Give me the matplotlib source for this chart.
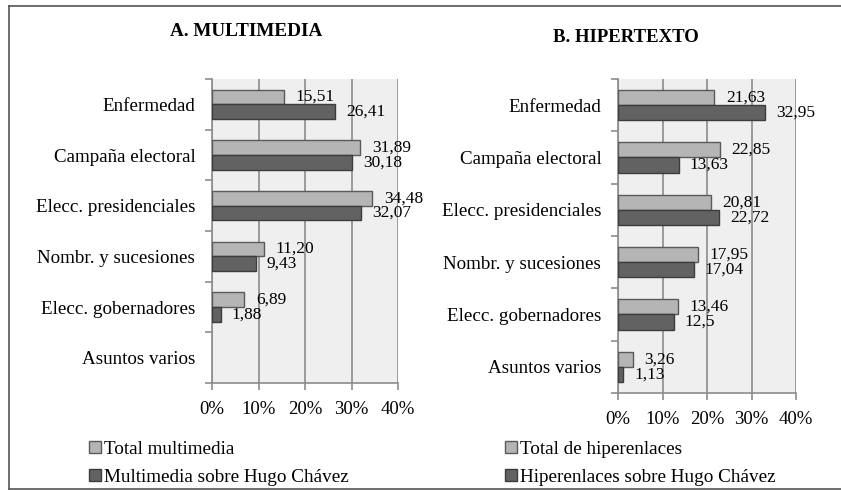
import matplotlib
matplotlib.use("Agg")
import matplotlib.pyplot as plt
from matplotlib.patches import Patch
from matplotlib.lines import Line2D
import numpy as np

plt.rcParams['font.family'] = ['Liberation Serif', 'DejaVu Serif']

categories = ["Enfermedad", "Campaña electoral", "Elecc. presidenciales",
              "Nombr. y sucesiones", "Elecc. gobernadores", "Asuntos varios"]

# A. Multimedia (no bars for "Asuntos varios")
multi_total = [15.51, 31.89, 34.48, 11.20, 6.89, np.nan]
multi_chavez = [26.41, 30.18, 32.07, 9.43, 1.88, np.nan]
multi_total_lbl = ["15,51", "31,89", "34,48", "11,20", "6,89", ""]
multi_chavez_lbl = ["26,41", "30,18", "32,07", "9,43", "1,88", ""]

# B. Hipertexto
hiper_total = [21.63, 22.85, 20.81, 17.95, 13.46, 3.26]
hiper_chavez = [32.95, 13.63, 22.72, 17.04, 12.5, 1.13]
hiper_total_lbl = ["21,63", "22,85", "20,81", "17,95", "13,46", "3,26"]
hiper_chavez_lbl = ["32,95", "13,63", "22,72", "17,04", "12,5", "1,13"]

xticks = [0, 10, 20, 30, 40]
xtick_lbl = ["0%", "10%", "20%", "30%", "40%"]

LIGHT = "#b5b5b5"
DARK = "#626262"
GRID = "#8c8c8c"


def draw_panel(ax, total, chavez, total_lbl, chavez_lbl, leg_labels, leg_anchor):
    y = np.arange(len(categories))
    h = 0.29
    ax.set_facecolor("#efefef")
    ax.barh(y - h / 2, total, height=h, color=LIGHT, edgecolor="#5a5a5a", linewidth=1.0, zorder=3)
    ax.barh(y + h / 2, chavez, height=h, color=DARK, edgecolor="#3c3c3c", linewidth=1.0, zorder=3)
    for i in range(len(categories)):
        if total_lbl[i]:
            ax.annotate(total_lbl[i], (total[i], y[i] - h / 2), xytext=(8.5, 0),
                        textcoords="offset points", va="center", ha="left", fontsize=12.5, zorder=4)
        if chavez_lbl[i]:
            ax.annotate(chavez_lbl[i], (chavez[i], y[i] + h / 2), xytext=(8, 0),
                        textcoords="offset points", va="center", ha="left", fontsize=12.5, zorder=4)

    ax.set_xlim(0, 40)
    ax.set_ylim(len(categories) - 0.5, -0.5)
    ax.set_xticks(xticks)
    ax.set_xticklabels(xtick_lbl, fontsize=13.5)
    ax.xaxis.grid(True, color=GRID, linewidth=1.2, zorder=1)
    ax.set_axisbelow(True)

    ax.set_yticks(np.arange(len(categories) + 1) - 0.5)
    ax.set_yticklabels([])
    ax.set_yticks(y, minor=True)
    ax.set_yticklabels(categories, minor=True, fontsize=13.7)
    ax.tick_params(axis="y", which="minor", length=0, pad=12)
    ax.tick_params(axis="y", which="major", length=5, color=GRID, width=1.2)
    ax.tick_params(axis="x", length=5, color=GRID, width=1.2, pad=8)

    for s in ["top", "right"]:
        ax.spines[s].set_visible(False)
    for s in ["left", "bottom"]:
        ax.spines[s].set_color(GRID)
        ax.spines[s].set_linewidth(1.2)

    handles = [Patch(facecolor=LIGHT, edgecolor="#5a5a5a", linewidth=1.0),
               Patch(facecolor=DARK, edgecolor="#3c3c3c", linewidth=1.0)]
    fig.legend(handles, leg_labels, loc="upper left", bbox_to_anchor=leg_anchor,
               frameon=False, fontsize=13.8, handlelength=0.6, handleheight=0.6,
               handletextpad=0.2, labelspacing=0.55, borderpad=0, borderaxespad=0)


fig = plt.figure(figsize=(8.41, 4.90), dpi=100)
ax_a = fig.add_axes([212 / 841, 1 - 383 / 490, 186 / 841, 304 / 490])
ax_b = fig.add_axes([618 / 841, 1 - 393 / 490, 178 / 841, 314 / 490])

draw_panel(ax_a, multi_total, multi_chavez, multi_total_lbl, multi_chavez_lbl,
           ["Total multimedia", "Multimedia sobre Hugo Chávez"], (89 / 841, 1 - 441 / 490))
draw_panel(ax_b, hiper_total, hiper_chavez, hiper_total_lbl, hiper_chavez_lbl,
           ["Total de hiperenlaces", "Hiperenlaces sobre Hugo Chávez"], (505 / 841, 1 - 441 / 490))

fig.text(246 / 841, 1 - 31 / 490, "A. MULTIMEDIA", ha="center", va="center",
         fontsize=13.8, fontweight="bold")
fig.text(626 / 841, 1 - 38 / 490, "B. HIPERTEXTO", ha="center", va="center",
         fontsize=13.5, fontweight="bold")

# frame of the scanned figure
fig.add_artist(Line2D([9 / 841, 9 / 841], [1 - 6 / 490, 1 / 490], color="#555555", lw=1.2))
fig.add_artist(Line2D([9 / 841, 1], [1 - 6 / 490, 1 - 6 / 490], color="#555555", lw=1.2))
fig.add_artist(Line2D([9 / 841, 1], [1 / 490, 1 / 490], color="#555555", lw=1.2))

fig.savefig("out.png", dpi=100)
